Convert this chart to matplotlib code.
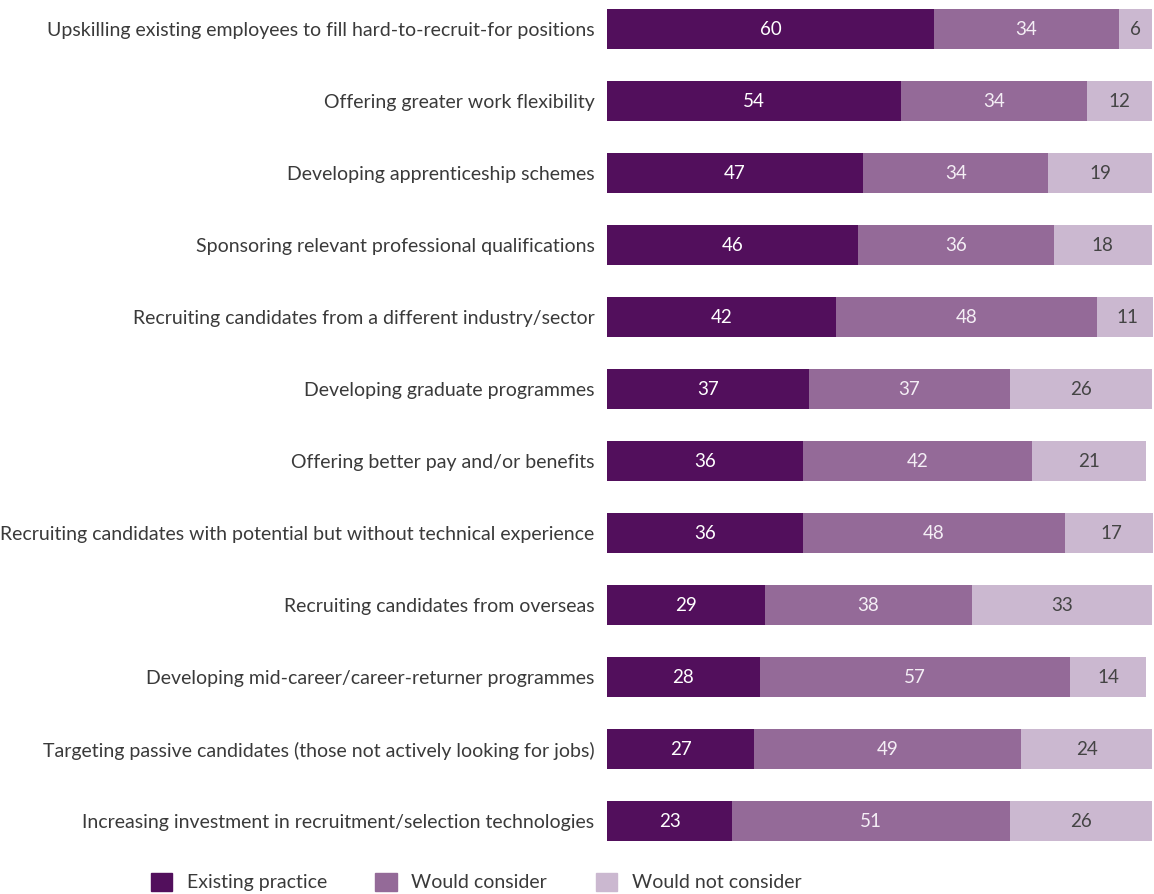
import matplotlib

matplotlib.use("Agg")
import matplotlib.pyplot as plt
import numpy as np
from matplotlib.patches import Patch

plt.rcParams["font.family"] = ["Lato", "DejaVu Sans"]

# ------------------------------------------------------------------ данные

categories = [
    "Upskilling existing employees to fill hard-to-recruit-for positions",
    "Offering greater work flexibility",
    "Developing apprenticeship schemes",
    "Sponsoring relevant professional qualifications",
    "Recruiting candidates from a different industry/sector",
    "Developing graduate programmes",
    "Offering better pay and/or benefits",
    "Recruiting candidates with potential but without technical experience",
    "Recruiting candidates from overseas",
    "Developing mid-career/career-returner programmes",
    "Targeting passive candidates (those not actively looking for jobs)",
    "Increasing investment in recruitment/selection technologies",
]
existing = [60, 54, 47, 46, 42, 37, 36, 36, 29, 28, 27, 23]
would_consider = [34, 34, 34, 36, 48, 37, 42, 48, 38, 57, 49, 51]
would_not = [6, 12, 19, 18, 11, 26, 21, 17, 33, 14, 24, 26]

series_names = ["Existing practice", "Would consider", "Would not consider"]
colors = ["#520F5C", "#946A98", "#CBB8D0"]
text_colors = ["white", "#F4EEF5", "#444444"]

# ------------------------------------------------------------------ график

W, H = 1154, 894
fig = plt.figure(figsize=(W / 100, H / 100), dpi=100)
ax = fig.add_axes([607 / W, 1 - 857 / H, 546 / W, 857 / H])

y = np.arange(len(categories))
left = np.zeros(len(categories))
for vals, color, tcol in zip([existing, would_consider, would_not], colors, text_colors):
    vals = np.array(vals, dtype=float)
    ax.barh(y, vals, left=left, height=0.555, color=color, edgecolor="none")
    for yi, l, v in zip(y, left, vals):
        ax.text(l + v / 2, yi + 0.01, f"{int(v)}", ha="center", va="center",
                color=tcol, fontsize=13.5)
    left += vals

ax.set_xlim(0, 100.2)
ax.set_ylim(len(categories) - 0.5, -29 / 72)
ax.set_yticks(y)
ax.set_yticklabels(categories, fontsize=14, color="#3A3A3A")
ax.tick_params(axis="y", length=0, pad=9)
ax.set_xticks([])
for s in ax.spines.values():
    s.set_visible(False)

# легенда внизу, без рамки
handles = [Patch(color=c, label=n) for n, c in zip(series_names, colors)]
fig.legend(handles=handles, loc="center", bbox_to_anchor=(476 / W, 1 - 882 / H),
           ncol=3, frameon=False, fontsize=14, handlelength=1.1, handleheight=1.1,
           handletextpad=0.75, columnspacing=2.5, labelcolor="#3A3A3A")

fig.savefig("out.png", dpi=100)
